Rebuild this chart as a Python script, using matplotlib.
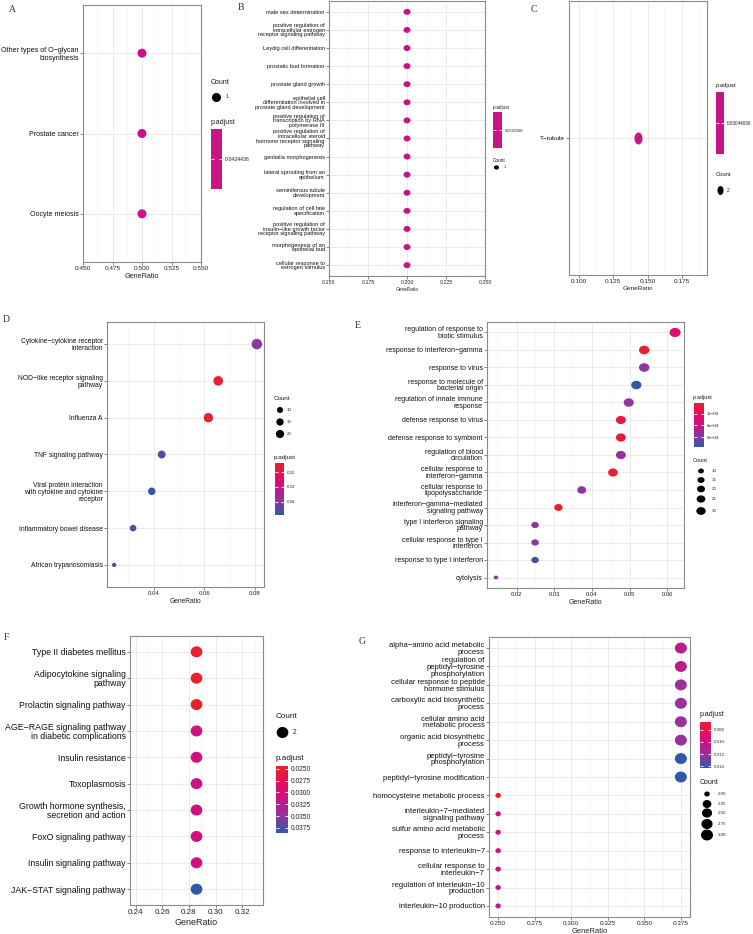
import numpy as np
import matplotlib
matplotlib.use('Agg')
import matplotlib.pyplot as plt
from matplotlib.colors import LinearSegmentedColormap, Normalize
from matplotlib.markers import MarkerStyle
from matplotlib.path import Path
from matplotlib.ticker import MultipleLocator, FormatStrFormatter

plt.rcParams['font.family'] = ['Liberation Sans', 'DejaVu Sans']

W, H = 753, 934

# ---------------------------------------------------------------- data
# A  (KEGG)
a_terms = ['Other types of O−glycan\nbiosynthesis', 'Prostate cancer', 'Oocyte meiosis']
a_ratio = [0.5, 0.5, 0.5]
a_count = [1, 1, 1]
a_padj = [0.0424436, 0.0424436, 0.0424436]

# B  (GO BP)
b_terms = ['male sex determination',
           'positive regulation of\nintracellular estrogen\nreceptor signaling pathway',
           'Leydig cell differentiation',
           'prostatic bud formation',
           'prostate gland growth',
           'epithelial cell\ndifferentiation involved in\nprostate gland development',
           'positive regulation of\ntranscription by RNA\npolymerase III',
           'positive regulation of\nintracellular steroid\nhormone receptor signaling\npathway',
           'genitalia morphogenesis',
           'lateral sprouting from an\nepithelium',
           'seminiferous tubule\ndevelopment',
           'regulation of cell fate\nspecification',
           'positive regulation of\ninsulin−like growth factor\nreceptor signaling pathway',
           'morphogenesis of an\nepithelial bud',
           'cellular response to\nestrogen stimulus']
b_ratio = [0.2] * 15
b_count = [1] * 15
b_padj = [0.0343368] * 15

# C  (GO CC)
c_terms = ['T−tubule']
c_ratio = [0.1429]
c_count = [2]
c_padj = [0.03044036]

# D  (KEGG)
d_terms = ['Cytokine−cytokine receptor\ninteraction',
           'NOD−like receptor signaling\npathway',
           'Influenza A',
           'TNF signaling pathway',
           'Viral protein interaction\nwith cytokine and cytokine\nreceptor',
           'Inflammatory bowel disease',
           'African trypanosomiasis']
d_ratio = [0.0808, 0.0655, 0.0616, 0.0431, 0.0392, 0.0318, 0.0243]
d_count = [21, 17, 16, 11, 10, 8, 6]
d_padj = [0.0400, 0.0142, 0.0138, 0.0448, 0.0490, 0.0452, 0.0440]
d_cb_ticks = [0.02, 0.03, 0.04]
d_cb_labels = ['0.02', '0.03', '0.04']
d_leg_counts = [10, 15, 20]

# E  (GO BP)
e_terms = ['regulation of response to\nbiotic stimulus',
           'response to interferon−gamma',
           'response to virus',
           'response to molecule of\nbacterial origin',
           'regulation of innate immune\nresponse',
           'defense response to virus',
           'defense response to symbiont',
           'regulation of blood\ncirculation',
           'cellular response to\ninterferon−gamma',
           'cellular response to\nlipopolysaccharide',
           'interferon−gamma−mediated\nsignaling pathway',
           'type I interferon signaling\npathway',
           'cellular response to type I\ninterferon',
           'response to type I interferon',
           'cytolysis']
e_ratio = [0.0621, 0.0539, 0.0539, 0.0518, 0.0498, 0.0477, 0.0477, 0.0477,
           0.0456, 0.0373, 0.0311, 0.0249, 0.0249, 0.0249, 0.0145]
e_count = [30, 26, 26, 25, 24, 23, 23, 23, 22, 18, 15, 12, 12, 12, 7]
e_padj = [3.6e-4, 1.5e-5, 8.8e-4, 1.16e-3, 8.5e-4, 1.0e-4, 8.0e-5, 8.5e-4,
          5.0e-5, 8.7e-4, 4.0e-5, 8.8e-4, 8.8e-4, 1.10e-3, 8.8e-4]
e_cb_ticks = [3e-4, 6e-4, 9e-4]
e_cb_labels = ['3e−04', '6e−04', '9e−04']
e_leg_counts = [10, 15, 20, 25, 30]

# F  (KEGG)
f_terms = ['Type II diabetes mellitus',
           'Adipocytokine signaling\npathway',
           'Prolactin signaling pathway',
           'AGE−RAGE signaling pathway\nin diabetic complications',
           'Insulin resistance',
           'Toxoplasmosis',
           'Growth hormone synthesis,\nsecretion and action',
           'FoxO signaling pathway',
           'Insulin signaling pathway',
           'JAK−STAT signaling pathway']
f_ratio = [0.2857] * 10
f_count = [2] * 10
f_padj = [0.0244, 0.0244, 0.0244, 0.0308, 0.0308, 0.0308, 0.0308, 0.0308, 0.0308, 0.0386]
f_cb_ticks = [0.025, 0.0275, 0.03, 0.0325, 0.035, 0.0375]
f_cb_labels = ['0.0250', '0.0275', '0.0300', '0.0325', '0.0350', '0.0375']

# G  (GO BP)
g_terms = ['alpha−amino acid metabolic\nprocess',
           'regulation of\npeptidyl−tyrosine\nphosphorylation',
           'cellular response to peptide\nhormone stimulus',
           'carboxylic acid biosynthetic\nprocess',
           'cellular amino acid\nmetabolic process',
           'organic acid biosynthetic\nprocess',
           'peptidyl−tyrosine\nphosphorylation',
           'peptidyl−tyrosine modification',
           'homocysteine metabolic process',
           'interleukin−7−mediated\nsignaling pathway',
           'sulfur amino acid metabolic\nprocess',
           'response to interleukin−7',
           'cellular response to\ninterleukin−7',
           'regulation of interleukin−10\nproduction',
           'interleukin−10 production']
g_ratio = [0.375] * 8 + [0.25] * 7
g_count = [3] * 8 + [2] * 7
g_padj = [0.0109, 0.0108, 0.0120, 0.0120, 0.0120, 0.0120, 0.0143, 0.0143,
          0.0067, 0.0104, 0.0104, 0.0104, 0.0104, 0.0114, 0.0114]
g_cb_ticks = [0.008, 0.010, 0.012, 0.014]
g_cb_labels = ['0.008', '0.010', '0.012', '0.014']
g_leg_counts = [2.0, 2.25, 2.5, 2.75, 3.0]
g_leg_labels = ['2.00', '2.25', '2.50', '2.75', '3.00']

# ---------------------------------------------------------------- helpers
cmap = LinearSegmentedColormap.from_list(
    'padj', [(0, '#E8222C'), (0.25, '#E50D60'), (0.5, '#C81486'),
             (0.75, '#8C389E'), (1, '#3157A8')])

fig = plt.figure(figsize=(W / 100, H / 100), dpi=100)
over = fig.add_axes([0, 0, 1, 1])
over.set_xlim(0, W)
over.set_ylim(H, 0)
over.axis('off')
over.set_zorder(10)


def px_axes(x0, y0, x1, y1):
    return fig.add_axes([x0 / W, 1 - y1 / H, (x1 - x0) / W, (y1 - y0) / H])


def ell_marker(aspect):
    t = np.linspace(0, 2 * np.pi, 73)
    if aspect >= 1:
        v = np.column_stack([np.cos(t), np.sin(t) / aspect])
    else:
        v = np.column_stack([np.cos(t) * aspect, np.sin(t)])
    return MarkerStyle(Path(v, closed=True))


def diam(c, cnt, dmin, dmax):
    c = np.asarray(c, float)
    lo, hi = min(cnt), max(cnt)
    if hi == lo:
        return np.full(c.shape, float(dmax))
    return dmin + (dmax - dmin) * np.sqrt((c - lo) / (hi - lo))


def get_norm(padj):
    lo, hi = min(padj), max(padj)
    if lo == hi:
        return Normalize(lo - 1, hi + 1)
    return Normalize(lo, hi)


def dot_panel(box, terms, ratio, count, padj, step, fmt, fs, ls, dmin, dmax, aspect):
    ax = px_axes(*box)
    n = len(terms)
    y = np.arange(n, 0, -1)
    r = np.asarray(ratio)
    if r.max() == r.min():
        ax.set_xlim(r.min() - 0.05, r.max() + 0.05)
    else:
        pad = (r.max() - r.min()) * 0.05
        ax.set_xlim(r.min() - pad, r.max() + pad)
    ax.set_ylim(0.4, n + 0.6)
    d = diam(count, count, dmin, dmax)
    ax.scatter(r, y, s=(d * 0.72) ** 2, c=padj, cmap=cmap, norm=get_norm(padj),
               marker=ell_marker(aspect), linewidths=0, zorder=3)
    ax.set_yticks(y)
    ax.set_yticklabels(terms, fontsize=fs[0], linespacing=ls)
    ax.xaxis.set_major_locator(MultipleLocator(step))
    ax.xaxis.set_minor_locator(MultipleLocator(step / 2))
    ax.xaxis.set_major_formatter(FormatStrFormatter(fmt))
    ax.tick_params(axis='both', which='major', length=2, width=0.5, color='#555555', pad=1)
    ax.tick_params(axis='x', labelsize=fs[1], labelcolor='#222222')
    ax.tick_params(axis='y', labelcolor='#111111')
    ax.tick_params(which='minor', length=0)
    ax.grid(which='major', color='#E8E8E8', lw=0.6)
    ax.grid(which='minor', axis='x', color='#F0F0F0', lw=0.35)
    ax.set_axisbelow(True)
    for s in ax.spines.values():
        s.set_color('#8A8A8A')
        s.set_linewidth(0.8)
    ax.set_xlabel('GeneRatio', fontsize=fs[2], labelpad=1, color='#222222')
    return ax


def cbar(box, title_xy, padj, ticks, labels, tfs, lfs):
    over.text(title_xy[0], title_xy[1], 'p.adjust', fontsize=tfs, ha='left', va='center', color='#1A1A1A')
    cax = px_axes(*box)
    lo, hi = min(padj), max(padj)
    if lo == hi:
        cax.imshow([[0.5]], cmap=cmap, vmin=0, vmax=1, aspect='auto', extent=[0, 1, lo + 1, lo - 1])
        ticks = [lo]
    else:
        cax.imshow(np.linspace(0, 1, 256)[:, None], cmap=cmap, vmin=0, vmax=1,
                   aspect='auto', extent=[0, 1, hi, lo])
    cax.set_xticks([])
    cax.set_yticks(ticks)
    cax.set_yticklabels(labels)
    cax.tick_params(axis='y', direction='in', length=2, width=0.6, color='white',
                    left=True, right=True, labelleft=False, labelright=True,
                    labelsize=lfs, pad=2, labelcolor='#222222')
    for s in cax.spines.values():
        s.set_visible(False)


def count_legend(title_xy, dot_x, ys, counts, labels, cnt, dmin, dmax, aspect, lab_x, tfs, lfs, lscale):
    over.text(title_xy[0], title_xy[1], 'Count', fontsize=tfs, ha='left', va='center', color='#1A1A1A')
    d = diam(counts, cnt, dmin, dmax) * lscale
    over.scatter([dot_x] * len(ys), ys, s=(d * 0.72) ** 2, c='black',
                 marker=ell_marker(aspect), linewidths=0)
    for yy, lab in zip(ys, labels):
        over.text(lab_x, yy, lab, fontsize=lfs, ha='left', va='center', color='#222222')


# ---------------------------------------------------------------- panels
# A
dot_panel((83, 5, 201, 262), a_terms, a_ratio, a_count, a_padj, 0.025, '%.3f',
          (5.1, 4.6, 5.2), 1.1, 9, 9, 1.0)
count_legend((211, 83), 216, [97], [1], ['1'], a_count, 9, 9, 1.0, 226, 5.0, 3.8, 1.0)
cbar((211, 129, 222, 189), (211, 122), a_padj, None, ['0.0424436'], 5.0, 3.8)

# B
dot_panel((329, 1, 485, 276), b_terms, b_ratio, b_count, b_padj, 0.025, '%.3f',
          (4.1, 3.8, 3.4), 0.9, 7, 7, 1.17)
cbar((493, 112, 502, 148), (493, 107), b_padj, None, ['0.0343368'], 3.4, 2.8)
count_legend((493, 160), 496, [167], [1], ['1'], b_count, 7, 7, 1.17, 504, 3.4, 2.8, 0.72)

# C
dot_panel((569, 1, 707, 275), c_terms, c_ratio, c_count, c_padj, 0.025, '%.3f',
          (4.6, 4.6, 4.6), 1.0, 12, 12, 0.67)
cbar((716, 92, 724, 154), (716, 85), c_padj, None, ['0.03044036'], 4.2, 3.4)
count_legend((716, 175), 720, [190], [2], ['2'], c_count, 12, 12, 0.67, 727, 4.2, 3.4, 0.75)

# D
dot_panel((107, 322, 264, 587), d_terms, d_ratio, d_count, d_padj, 0.02, '%.2f',
          (4.9, 4.3, 4.8), 1.0, 4.3, 10.5, 1.0)
count_legend((274, 399), 280, [410, 422, 434], d_leg_counts, [str(v) for v in d_leg_counts],
             d_count, 4.3, 10.5, 1.0, 287, 4.5, 3.2, 0.8)
cbar((275, 463, 284, 515), (274, 457), d_padj, d_cb_ticks, d_cb_labels, 4.5, 3.2)

# E
dot_panel((487, 322, 684, 588), e_terms, e_ratio, e_count, e_padj, 0.01, '%.2f',
          (5.0, 4.2, 5.0), 0.9, 4.5, 11, 1.2)
cbar((694, 403, 704, 447), (693, 397), e_padj, e_cb_ticks, e_cb_labels, 4.1, 3.2)
count_legend((693, 461), 701, [471, 480, 489, 499, 511], e_leg_counts, [str(v) for v in e_leg_counts],
             e_count, 4.5, 11, 1.2, 712, 4.1, 3.2, 0.85)

# F
dot_panel((130, 636, 263, 905), f_terms, f_ratio, f_count, f_padj, 0.02, '%.2f',
          (6.3, 5.8, 6.5), 1.0, 11.7, 11.7, 1.06)
count_legend((276, 717), 282, [732], [2], ['2'], f_count, 11.7, 11.7, 1.06, 293, 5.9, 4.8, 1.0)
cbar((276, 766, 288, 833), (276, 758), f_padj, f_cb_ticks, f_cb_labels, 5.9, 4.8)

# G
dot_panel((489, 637, 690, 917), g_terms, g_ratio, g_count, g_padj, 0.025, '%.3f',
          (5.5, 4.6, 5.4), 0.95, 5.5, 12, 1.1)
cbar((700, 722, 711, 768), (700, 715), g_padj, g_cb_ticks, g_cb_labels, 5.0, 3.2)
count_legend((700, 783), 707, [794, 804, 813, 824, 835], g_leg_counts, g_leg_labels,
             g_count, 5.5, 12, 1.1, 718, 5.0, 3.2, 1.0)

# panel letters
for lab, x, y in [('A', 12, 9), ('B', 241, 8), ('C', 534, 9), ('D', 6, 320),
                  ('E', 358, 325), ('F', 6, 638), ('G', 362, 641)]:
    over.text(x, y, lab, fontsize=7, family='Liberation Serif', ha='center', va='center', color='#333333')

fig.savefig('out.png', dpi=100)
